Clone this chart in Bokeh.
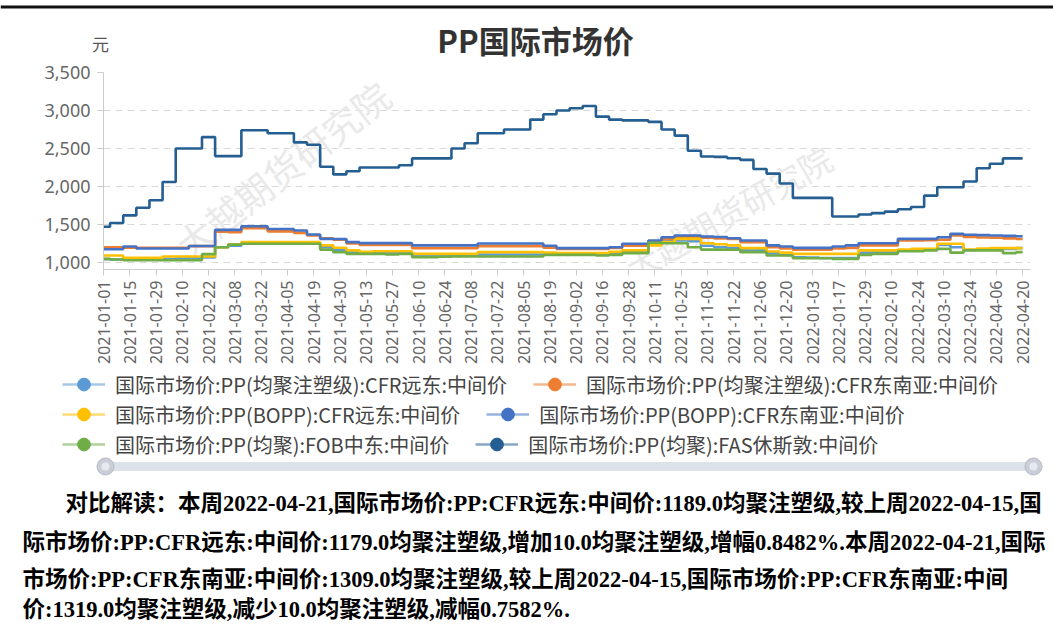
import numpy as np
from bokeh.plotting import figure
from bokeh.models import (Range1d, NumeralTickFormatter, FixedTicker, Legend,
                          LegendItem)
from bokeh.layouts import column
from bokeh.embed import file_html
from bokeh.resources import INLINE
from bokeh.core.properties import value

# ---------------- data ----------------
date_labels = [
    "2021-01-01", "2021-01-15", "2021-01-29", "2021-02-10", "2021-02-22",
    "2021-03-08", "2021-03-22", "2021-04-05", "2021-04-19", "2021-04-30",
    "2021-05-13", "2021-05-27", "2021-06-10", "2021-06-24", "2021-07-08",
    "2021-07-22", "2021-08-05", "2021-08-19", "2021-09-02", "2021-09-16",
    "2021-09-28", "2021-10-11", "2021-10-25", "2021-11-08", "2021-11-22",
    "2021-12-06", "2021-12-20", "2022-01-03", "2022-01-17", "2022-01-29",
    "2022-02-10", "2022-02-24", "2022-03-10", "2022-03-24", "2022-04-06",
    "2022-04-20",
]
days_per_label = 10      # trading days between two axis labels
days_per_sample = 5      # weekly samples

series_names = [
    "国际市场价:PP(均聚注塑级):CFR远东:中间价",
    "国际市场价:PP(均聚注塑级):CFR东南亚:中间价",
    "国际市场价:PP(BOPP):CFR远东:中间价",
    "国际市场价:PP(BOPP):CFR东南亚:中间价",
    "国际市场价:PP(均聚):FOB中东:中间价",
    "国际市场价:PP(均聚):FAS休斯敦:中间价",
]
series_colors = ["#5B9BD5", "#ED7D31", "#FFC000", "#4472C4", "#70AD47", "#255E91"]

homo_cfr_fe = [1045, 1040, 1040, 1040, 1045, 1050, 1055, 1060, 1065, 1200, 1220, 1260,
               1260, 1260, 1260, 1260, 1260, 1200, 1165, 1140, 1127, 1127, 1127, 1127,
               1092, 1092, 1095, 1100, 1100, 1105, 1105, 1105, 1105, 1105, 1105, 1105,
               1105, 1105, 1105, 1120, 1140, 1145, 1270, 1300, 1290, 1280, 1220, 1200,
               1190, 1170, 1160, 1120, 1100, 1070, 1065, 1060, 1060, 1060, 1130, 1140,
               1140, 1160, 1165, 1170, 1230, 1200, 1165, 1175, 1179, 1179, 1189]
homo_cfr_sea = [1200, 1200, 1195, 1195, 1195, 1195, 1195, 1215, 1215, 1405, 1400, 1452,
                1452, 1410, 1410, 1390, 1355, 1320, 1300, 1250, 1232, 1232, 1232, 1232,
                1189, 1189, 1189, 1189, 1189, 1215, 1215, 1215, 1215, 1215, 1195, 1180,
                1180, 1180, 1180, 1190, 1220, 1220, 1268, 1311, 1333, 1333, 1325, 1315,
                1311, 1268, 1268, 1200, 1185, 1170, 1170, 1170, 1185, 1193, 1225, 1225,
                1225, 1290, 1290, 1295, 1300, 1355, 1335, 1330, 1325, 1318, 1310]
bopp_cfr_fe = [1092, 1092, 1061, 1061, 1061, 1079, 1079, 1079, 1079, 1200, 1240, 1268,
               1268, 1268, 1268, 1268, 1268, 1225, 1195, 1160, 1140, 1149, 1149, 1149,
               1114, 1114, 1114, 1114, 1114, 1136, 1136, 1136, 1136, 1136, 1130, 1123,
               1123, 1123, 1123, 1140, 1160, 1160, 1225, 1268, 1311, 1311, 1254, 1240,
               1225, 1189, 1189, 1145, 1130, 1114, 1114, 1114, 1114, 1114, 1160, 1160,
               1160, 1170, 1180, 1180, 1246, 1246, 1170, 1185, 1189, 1189, 1189]
bopp_cfr_sea = [1175, 1175, 1210, 1185, 1185, 1185, 1185, 1217, 1217, 1430, 1430, 1478,
                1478, 1440, 1440, 1421, 1368, 1311, 1310, 1268, 1255, 1255, 1255, 1255,
                1225, 1225, 1225, 1225, 1225, 1250, 1250, 1250, 1250, 1250, 1220, 1189,
                1189, 1189, 1189, 1200, 1246, 1246, 1290, 1333, 1355, 1355, 1342, 1335,
                1320, 1290, 1290, 1225, 1210, 1193, 1193, 1193, 1210, 1225, 1254, 1254,
                1254, 1311, 1311, 1311, 1333, 1377, 1365, 1360, 1355, 1350, 1345]
homo_fob_me = [1048, 1040, 1030, 1030, 1030, 1030, 1030, 1030, 1110, 1200, 1235, 1246,
               1246, 1246, 1246, 1246, 1246, 1170, 1136, 1114, 1114, 1114, 1105, 1114,
               1070, 1070, 1075, 1079, 1079, 1079, 1079, 1079, 1079, 1079, 1100, 1100,
               1100, 1100, 1092, 1100, 1123, 1123, 1260, 1254, 1254, 1200, 1170, 1170,
               1167, 1136, 1136, 1092, 1092, 1057, 1057, 1057, 1048, 1048, 1100, 1114,
               1114, 1149, 1149, 1160, 1180, 1130, 1160, 1160, 1160, 1123, 1136]
homo_fas_hou = [1470, 1520, 1620, 1720, 1820, 2060, 2500, 2500, 2650, 2400, 2400, 2740,
                2740, 2700, 2700, 2580, 2550, 2260, 2160, 2200, 2250, 2250, 2250, 2280,
                2370, 2370, 2370, 2500, 2570, 2700, 2700, 2750, 2750, 2880, 2950, 3000,
                3030, 3060, 2920, 2880, 2870, 2870, 2850, 2750, 2670, 2470, 2395, 2390,
                2372, 2350, 2230, 2170, 2040, 1850, 1850, 1850, 1605, 1605, 1632, 1650,
                1670, 1700, 1730, 1880, 1990, 1990, 2066, 2240, 2300, 2370, 2370]
all_series = [homo_cfr_fe, homo_cfr_sea, bopp_cfr_fe, bopp_cfr_sea, homo_fob_me, homo_fas_hou]

y_ticks = [1000, 1500, 2000, 2500, 3000, 3500]

title_text = "PP国际市场价"
unit_text = "元"
watermark_text = "大越期货研究院"
comment_lines = [
    "对比解读：本周2022-04-21,国际市场价:PP:CFR远东:中间价:1189.0均聚注塑级,较上周2022-04-15,国",
    "际市场价:PP:CFR远东:中间价:1179.0均聚注塑级,增加10.0均聚注塑级,增幅0.8482%.本周2022-04-21,国际",
    "市场价:PP:CFR东南亚:中间价:1309.0均聚注塑级,较上周2022-04-15,国际市场价:PP:CFR东南亚:中间",
    "价:1319.0均聚注塑级,减少10.0均聚注塑级,减幅0.7582%.",
]

# ---------------- layout ----------------
W = 1053
SANS = "Noto Sans CJK SC"
fa = {"frame_align": False} if "frame_align" in figure.properties() else {}


def blank(height, x_end, y_end):
    f = figure(width=W, height=height, x_range=Range1d(0, x_end), y_range=Range1d(y_end, 0),
               toolbar_location=None, output_backend="svg", min_border=0, **fa)
    f.axis.visible = False
    f.grid.visible = False
    f.outline_line_color = None
    return f


# top strip (title + unit)
TH = 61
top = blank(TH, W, TH)
top.segment(x0=[0], y0=[6.5], x1=[W], y1=[6.5], line_width=3, line_color="#111111")
top.text(x=[535], y=[38.5], text=[title_text], text_font=value(SANS), text_font_style="bold",
         text_font_size="31px", text_color="#333333", text_align="center",
         text_baseline="middle")
top.text(x=[100], y=[43], text=[unit_text], text_font=value(SANS), text_font_size="17px",
         text_color="#555555", text_align="center", text_baseline="middle")

# main chart
n = len(homo_fas_hou)
xs = [i * days_per_sample for i in range(n)]
x_end = (n - 1) * days_per_sample + 3

MH = 307
p = figure(width=W, height=MH, x_range=Range1d(0, x_end), y_range=Range1d(908, 3500),
           toolbar_location=None, output_backend="svg",
           min_border_left=103, min_border_right=23, min_border_top=11, min_border_bottom=99,
           **fa)
p.outline_line_color = None
p.xgrid.visible = False
p.ygrid.grid_line_color = "#d9d9d9"
p.ygrid.grid_line_dash = "7 5"
p.ygrid.grid_line_width = 1

p.yaxis.ticker = FixedTicker(ticks=y_ticks)
p.yaxis.formatter = NumeralTickFormatter(format="0,0")
p.xaxis.ticker = FixedTicker(ticks=[i * days_per_label for i in range(len(date_labels))])
p.xaxis.major_label_overrides = {i * days_per_label: d for i, d in enumerate(date_labels)}
p.xaxis.major_label_orientation = np.pi / 2
for ax in (p.xaxis, p.yaxis):
    ax.axis_line_color = "#cccccc"
    ax.major_tick_line_color = "#cccccc"
    ax.minor_tick_line_color = None
    ax.major_tick_in = 0
    ax.major_tick_out = 6
    ax.major_label_text_color = "#666666"
    ax.major_label_text_font = "Noto Sans"
p.yaxis.major_label_text_font_size = "18px"
p.yaxis.major_label_standoff = 7
p.xaxis.major_label_text_font_size = "16px"
p.xaxis.major_label_standoff = 5

# watermark (background decoration), kept inside the plot area
p.text(x=[68, 238], y=[2230, 1660], text=[watermark_text, watermark_text],
       angle=[0.66, 0.52], text_font=value(SANS), text_font_size=["37px", "33px"],
       text_color="#e9e9e9", text_align="center", text_baseline="middle")

for ser, col in zip(all_series, series_colors):
    p.step(xs, ser, mode="center", line_width=2.6, line_color=col)

# bottom: legend, slider, commentary
BH = 268
b = blank(BH, W, BH)

items = []
for name, col in zip(series_names, series_colors):
    lr = b.line(x=[-60, -50], y=[-60, -50], line_color=col, line_width=2.5, line_alpha=0.55)
    cr = b.scatter(x=[-60], y=[-60], size=13, fill_color=col, line_color=col)
    items.append(LegendItem(label=name, renderers=[lr, cr]))

rows = [(items[0:2], 236), (items[2:4], 206), (items[4:6], 176)]
for its, yy in rows:
    lg = Legend(items=its, location=(62, yy), orientation="horizontal",
                glyph_width=43, glyph_height=32, label_standoff=10, spacing=26,
                padding=0, margin=0, border_line_color=None, background_fill_alpha=0,
                label_text_font=SANS, label_text_font_size="20px",
                label_text_color="#444444")
    b.add_layout(lg, "center")

# slider (data zoom)
b.segment(x0=[105], y0=[98], x1=[1033], y1=[98], line_width=9, line_color="#dde1e8",
          line_cap="round")
b.scatter(x=[105, 1033], y=[98, 98], size=17, fill_color="#c9ced7", line_color="#b5bac4")
b.scatter(x=[105, 1033], y=[98, 98], size=8, fill_color="#e6e9ee", line_color=None)

SERIF = "Liberation Serif, Noto Sans CJK SC"
line_x = [65, 22, 22, 22]
line_y = [135, 174, 211, 241]
b.text(x=line_x, y=line_y, text=comment_lines, text_font=value(SERIF),
       text_font_style="bold", text_font_size="22.5px", text_color="#000000",
       text_baseline="middle")

layout = column(top, p, b, spacing=0)
open("out.html", "w").write(file_html(layout, INLINE))
